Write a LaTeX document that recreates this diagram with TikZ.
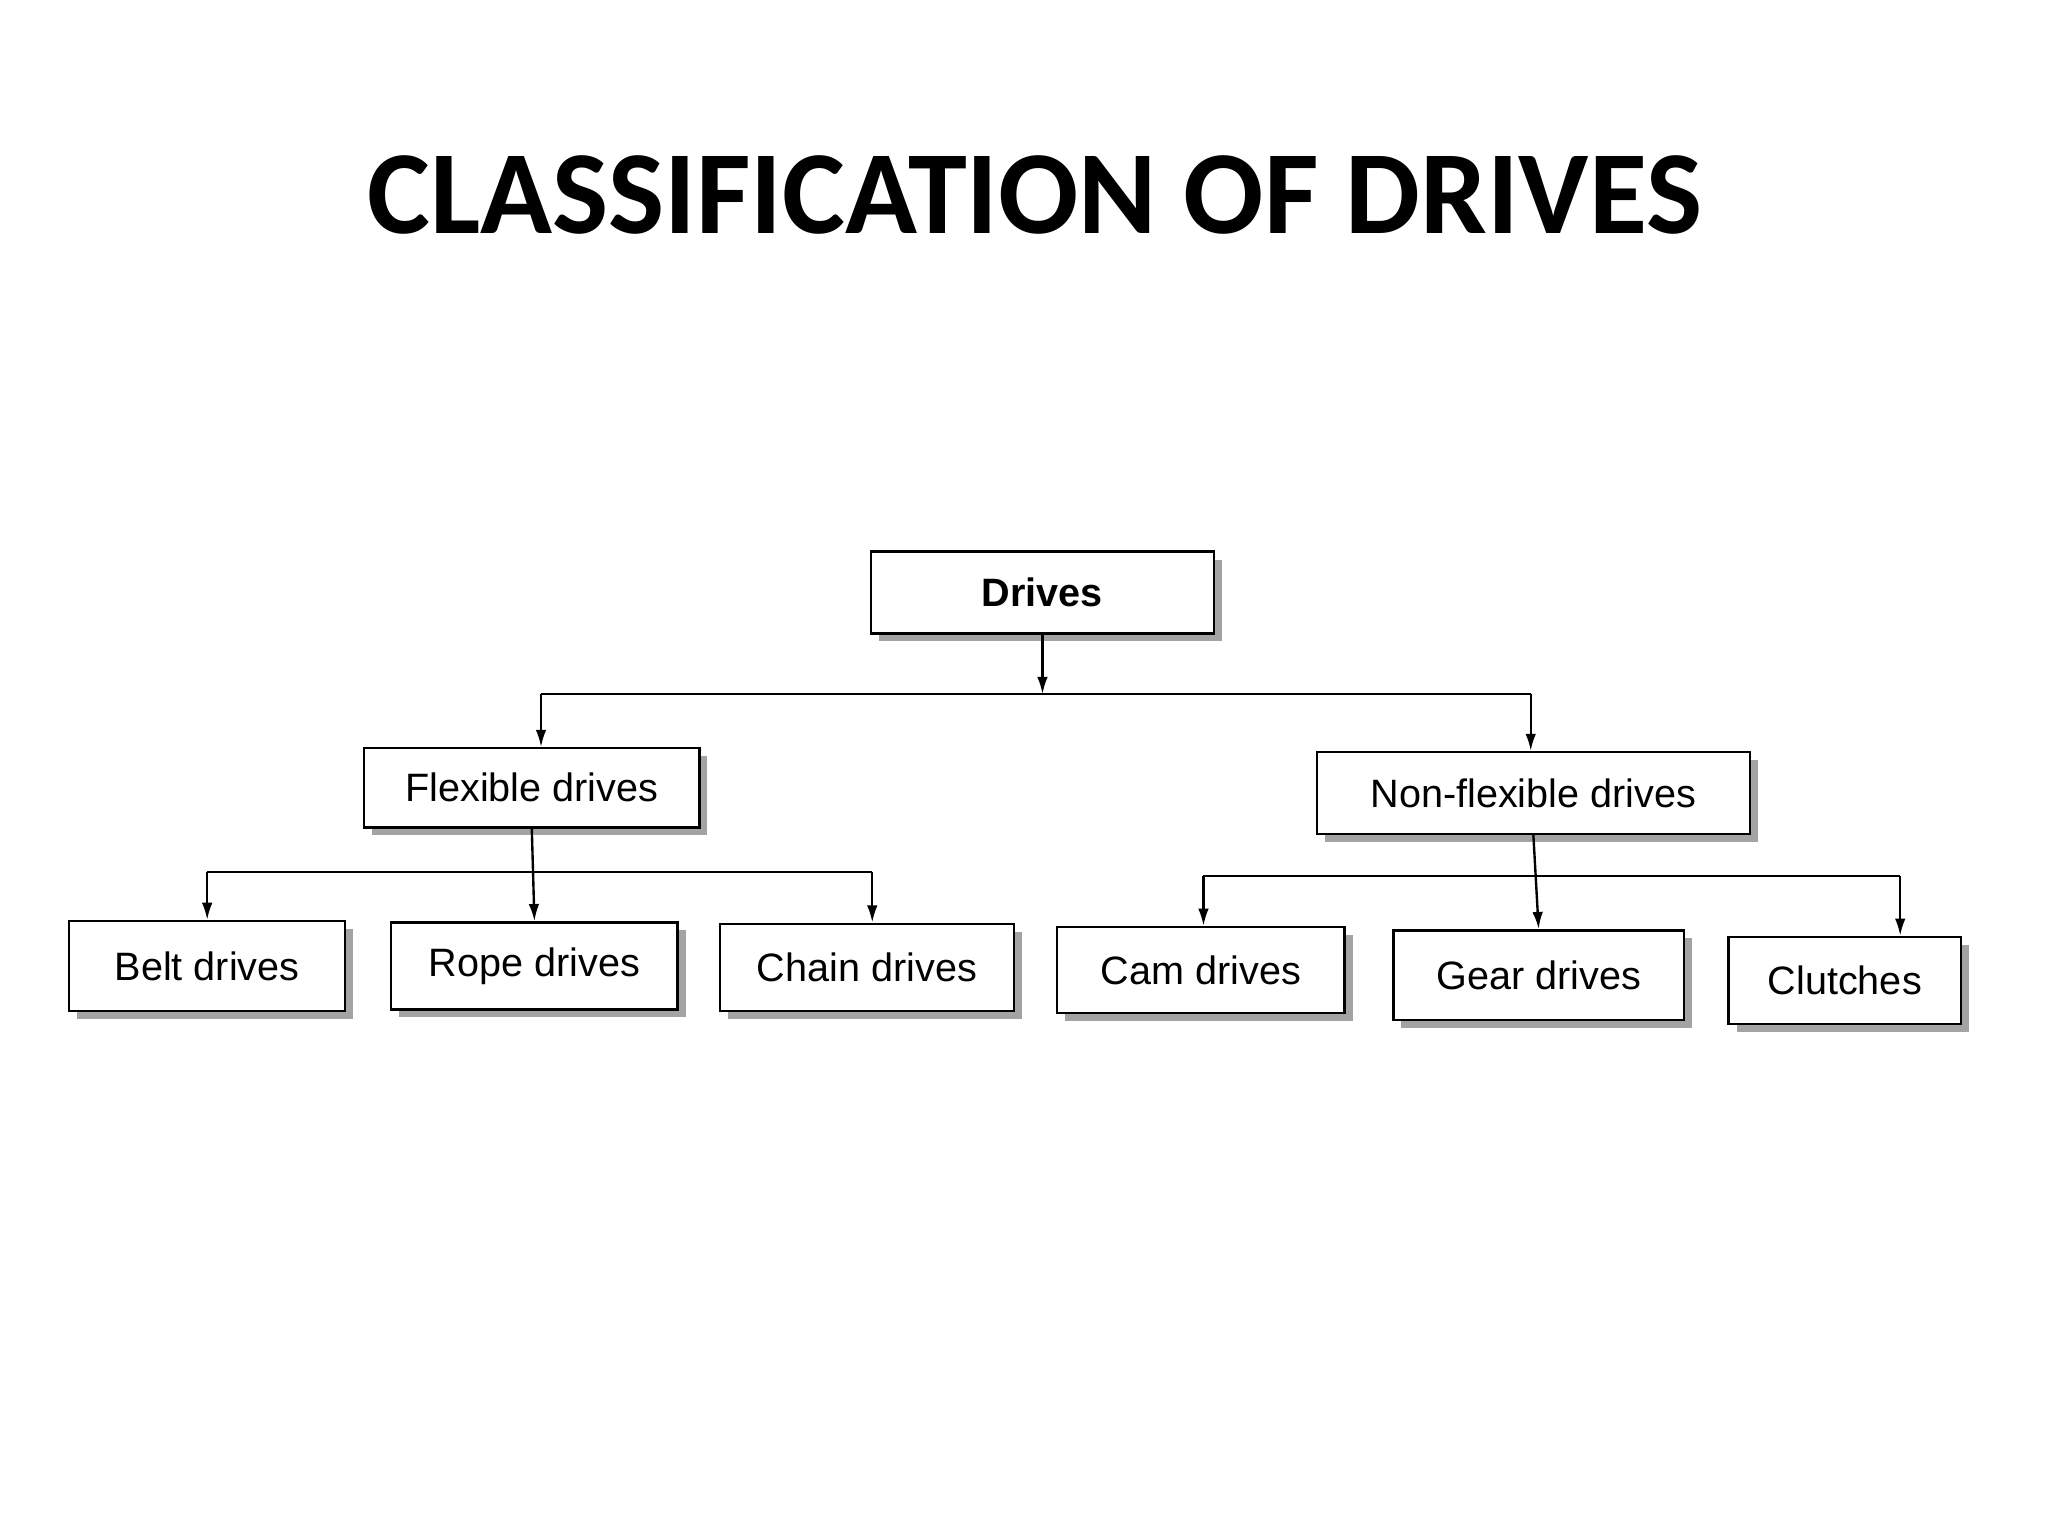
\documentclass[tikz,border=0pt]{standalone}
\usepackage{fontspec}
\setmainfont{Liberation Sans}
\newfontfamily\titlefont{Carlito}
\usetikzlibrary{shadows,arrows.meta}
\begin{document}
\begin{tikzpicture}[x=1pt,y=-1pt,
  box/.style={draw=black,line width=1.8pt,fill=white,inner sep=0pt,
    drop shadow={shadow xshift=6pt,shadow yshift=-6pt,fill=black!45,opacity=0.8},
    font=\fontsize{30}{34}\selectfont},
  arr/.style={line width=1.8pt,-{Latex[length=13pt,width=8pt]}},
  ln/.style={line width=1.8pt}]
\useasboundingbox (0,0) rectangle (1552,1164);
\node[font=\titlefont\bfseries\fontsize{90}{96}\selectfont] (title) at (784,148) {CLASSIFICATION OF DRIVES};
\node[box,minimum width=260pt,minimum height=62pt,font=\bfseries\fontsize{30}{34}\selectfont] (d) at (790,449) {Drives};
\node[box,minimum width=254pt,minimum height=60pt] (f) at (403,597) {Flexible drives};
\node[box,minimum width=328pt,minimum height=62pt] (n) at (1162,601) {Non-flexible drives};
\node[box,minimum width=209pt,minimum height=68pt] (b) at (157,732) {Belt drives};
\node[box,minimum width=217pt,minimum height=66pt] (r) at (405,732) {Rope drives};
\node[box,minimum width=223pt,minimum height=66pt] (c) at (657,733) {Chain drives};
\node[box,minimum width=218pt,minimum height=65pt] (cam) at (910,735) {Cam drives};
\node[box,minimum width=220pt,minimum height=68pt] (g) at (1166,739) {Gear drives};
\node[box,minimum width=176pt,minimum height=66pt] (cl) at (1398,743) {Clutches};
\coordinate (j1) at (790,526);
\coordinate (j1l) at (410,526);
\coordinate (j1r) at (1160,526);
\draw[arr] (d.south) -- (j1);
\draw[ln] (j1l) -- (j1r);
\draw[arr] (j1l) -- (j1l |- f.north);
\draw[arr] (j1r) -- (j1r |- n.north);
\coordinate (j2l) at (157,661);
\coordinate (j2r) at (661,661);
\draw[ln] (j2l) -- (j2r);
\draw[arr] (f.south) -- (r.north);
\draw[arr] (j2l) -- (b.north);
\draw[arr] (j2r) -- (j2r |- c.north);
\coordinate (j3l) at (912,664);
\coordinate (j3r) at (1440,664);
\draw[ln] (j3l) -- (j3r);
\draw[arr] (n.south) -- (g.north);
\draw[arr] (j3l) -- (j3l |- cam.north);
\draw[arr] (j3r) -- (j3r |- cl.north);
\end{tikzpicture}
\end{document}
